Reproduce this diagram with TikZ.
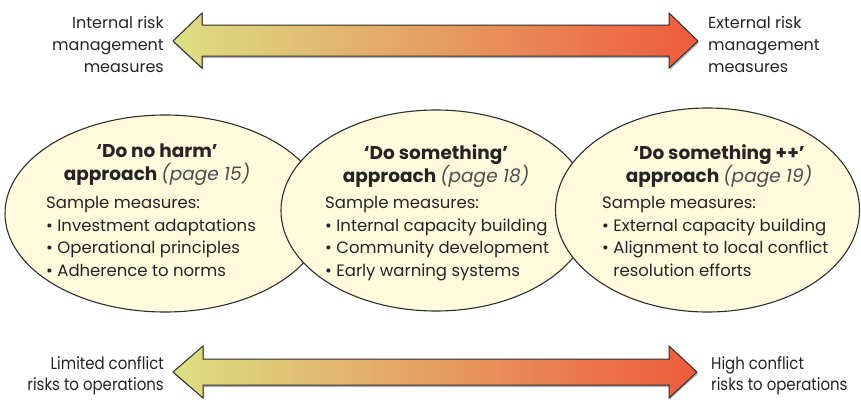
\documentclass[tikz,border=0pt]{standalone}
\usepackage{fontspec}
\setmainfont{Poppins}
\newfontfamily\condfont[FakeStretch=0.88]{Poppins}
\usetikzlibrary{shapes.geometric}
\definecolor{arrL}{HTML}{DCE084}
\definecolor{arrM}{HTML}{E8A964}
\definecolor{arrR}{HTML}{EF5B3C}
\definecolor{ellfill}{HTML}{FFFBDC}
\definecolor{edge}{HTML}{2E2E2E}
\definecolor{txt}{HTML}{262324}
\newcommand{\mypgref}[1]{{\mdseries\itshape\color{black!70}#1}}
\newcommand{\bul}{\textbullet\ }
\begin{document}
\begin{tikzpicture}[x=1pt,y=-1pt,
  lbl/.style={inner sep=0pt, text=txt, font=\fontsize{16}{22}\selectfont},
  condlbl/.style={inner sep=0pt, text=txt, font=\condfont\fontsize{17}{21}\selectfont},
  blockarrow/.style={draw=edge, line width=1pt, line join=miter, left color=arrL, middle color=arrM, right color=arrR},
  arrowshadow/.style={fill=black!30},
  bubble/.style={ellipse, draw=edge, line width=1.1pt, fill=ellfill, inner sep=0pt},
  titletext/.style={inner sep=0pt, text=txt, align=center, font=\fontsize{18.5}{23}\selectfont\bfseries},
  listtext/.style={inner sep=0pt, text=txt, align=left, font=\fontsize{16.5}{22.7}\selectfont}
]
\useasboundingbox (0,0) rectangle (861,399);

% top arrow
\fill[arrowshadow] (174,43) -- (203,15) -- (203,27) -- (670,27) -- (670,15) -- (699,43) -- (670,70) -- (670,58) -- (203,58) -- (203,70) -- cycle;
\shadedraw[blockarrow] (173,41) -- (202,13) -- (202,25) -- (669,25) -- (669,13) -- (698,41) -- (669,68) -- (669,56) -- (202,56) -- (202,68) -- cycle;

% bottom arrow
\fill[arrowshadow] (174,374) -- (204,348) -- (204,361) -- (670,361) -- (670,348) -- (698,374) -- (670,399) -- (670,387) -- (204,387) -- (204,399) -- cycle;
\shadedraw[blockarrow] (173,372) -- (203,346) -- (203,359) -- (669,359) -- (669,346) -- (697,372) -- (669,398) -- (669,385) -- (203,385) -- (203,398) -- cycle;

% arrow labels
\node[lbl, align=right, anchor=north east] (intl) at (164,16) {Internal risk\\management\\measures};
\node[lbl, align=left, anchor=north west] (extl) at (708,16) {External risk\\management\\measures};
\node[condlbl, align=right, anchor=north east] (lowl) at (164,356) {Limited conflict\\risks to operations};
\node[condlbl, align=left, anchor=north west] (highl) at (711,356) {High conflict\\risks to operations};

% ellipses
\node[bubble, minimum width=320pt, minimum height=197pt] (dnh) at (165,213.5) {};
\node[bubble, minimum width=310pt, minimum height=201pt] (ds) at (436,210.5) {};
\node[bubble, minimum width=304pt, minimum height=204pt] (dspp) at (707.5,210) {};

% ellipse titles
\node[titletext, anchor=north] (t1) at (157,144) {‘Do no harm’\\approach \mypgref{(page 15)}};
\node[titletext, anchor=north] (t2) at (436,144) {‘Do something’\\approach \mypgref{(page 18)}};
\node[titletext, anchor=north] (t3) at (719,144) {‘Do something ++’\\approach \mypgref{(page 19)}};

% ellipse lists
\node[listtext, anchor=north west] (l1) at (46,196) {Sample measures:\\\bul Investment adaptations\\\bul Operational principles\\\bul Adherence to norms};
\node[listtext, anchor=north west] (l2) at (325,196) {Sample measures:\\\bul Internal capacity building\\\bul Community development\\\bul Early warning systems};
\node[listtext, anchor=north west] (l3) at (602,196) {Sample measures:\\\bul External capacity building\\\bul Alignment to local conflict\\\hphantom{\bul}resolution efforts};
\end{tikzpicture}
\end{document}
